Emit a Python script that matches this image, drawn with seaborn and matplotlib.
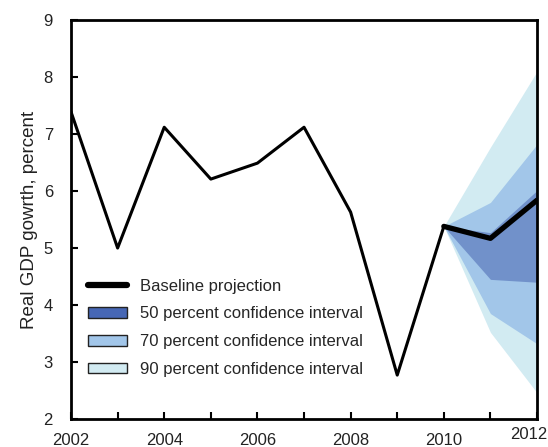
import matplotlib
matplotlib.use("Agg")
import matplotlib.pyplot as plt
import matplotlib.transforms as mtransforms
from matplotlib.patches import Patch
from matplotlib.lines import Line2D
import seaborn as sns
import pandas as pd

years = [2002, 2003, 2004, 2005, 2006, 2007, 2008, 2009, 2010, 2011, 2012]
growth = [7.39, 5.0, 7.12, 6.21, 6.49, 7.12, 5.63, 2.77, 5.38, 5.17, 5.84]

fan_years = [2010, 2011, 2012]
ci90_low = [5.38, 3.52, 2.46]
ci90_high = [5.38, 6.77, 8.10]
ci70_low = [5.38, 3.85, 3.32]
ci70_high = [5.38, 5.80, 6.82]
ci50_low = [5.38, 4.45, 4.40]
ci50_high = [5.38, 5.27, 6.01]

labels = ["Baseline projection", "50 percent confidence interval",
          "70 percent confidence interval", "90 percent confidence interval"]
c50, c70, c90 = "#7191ca", "#a2c6e9", "#d2ebf2"
c50_leg = "#4767b5"

sns.set_style("white")
plt.rcParams['font.family'] = ['Liberation Sans', 'DejaVu Sans']

fig = plt.figure(figsize=(5.48, 4.47), dpi=100)
ax = fig.add_axes([0.1296, 0.0627, 0.8504, 0.8923])

ax.fill_between(fan_years, ci90_low, ci90_high, color=c90, lw=0)
ax.fill_between(fan_years, ci70_low, ci70_high, color=c70, lw=0)
ax.fill_between(fan_years, ci50_low, ci50_high, color=c50, lw=0)

df = pd.DataFrame({"year": years, "growth": growth})
hist = df[df.year <= 2010]
proj = df[df.year >= 2010]
sns.lineplot(data=hist, x="year", y="growth", ax=ax, color="black", lw=2.2, legend=False)
sns.lineplot(data=proj, x="year", y="growth", ax=ax, color="black", lw=3.8, legend=False)

ax.set_xlim(2002, 2012)
ax.set_ylim(2, 9)
ax.set_xticks(list(range(2002, 2013, 2)))
ax.set_xticks(list(range(2003, 2012, 2)), minor=True)
ax.set_yticks(list(range(2, 10)))
ax.tick_params(axis='both', which='both', direction='in', length=5, width=1.5,
               labelsize=12, color='black', labelcolor='#222222',
               bottom=True, left=True, top=False, right=False)
ax.tick_params(axis='x', which='both', pad=10)
ax.tick_params(axis='y', pad=13)
for s in ax.spines.values():
    s.set_linewidth(2)
    s.set_color('black')
ax.set_xlabel("")
ax.set_ylabel("Real GDP gowrth, percent", fontsize=13.5, color='#222222', labelpad=4)

# 2012 label sits slightly higher and left in the reference
xl = ax.get_xticklabels()
off = mtransforms.ScaledTranslation(-0.08, 0.06, fig.dpi_scale_trans)
xl[-1].set_transform(xl[-1].get_transform() + off)

handles = [Line2D([0], [0], color='black', lw=4.5),
           Patch(facecolor=c50_leg, edgecolor='#222222', lw=1),
           Patch(facecolor=c70, edgecolor='#222222', lw=1),
           Patch(facecolor=c90, edgecolor='#222222', lw=1)]
ax.legend(handles, labels, loc='upper left', bbox_to_anchor=(0.0365, 0.352),
          frameon=False, fontsize=12, handlelength=2.35, handleheight=0.6,
          labelspacing=0.77, handletextpad=0.75, borderpad=0, borderaxespad=0)

fig.savefig("out.png", dpi=100)
